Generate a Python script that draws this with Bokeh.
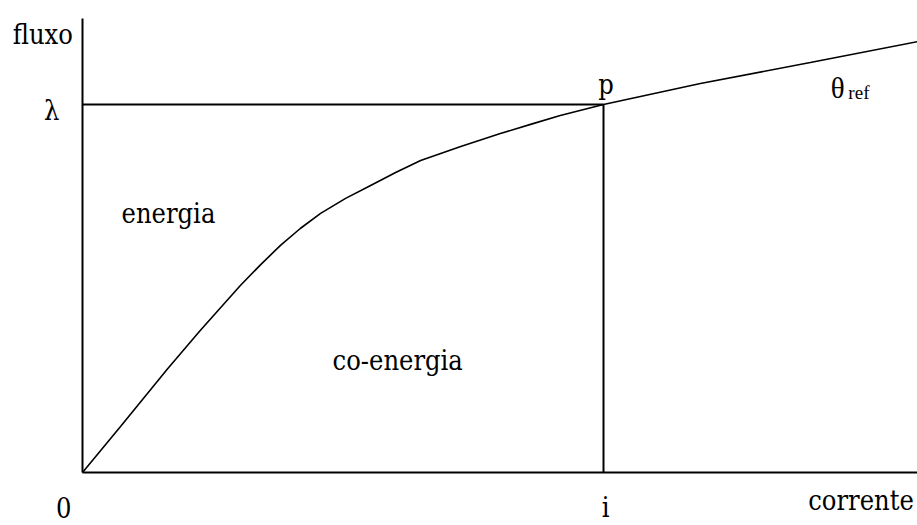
from bokeh.plotting import figure
from bokeh.models import Range1d
from bokeh.core.properties import value
from bokeh.embed import file_html
from bokeh.resources import INLINE

# Magnetisation curve flux(current), normalised so the operating point p is (1, 1)
curve_current = [0.0, 0.073, 0.163, 0.226, 0.303, 0.342, 0.380, 0.418, 0.457, 0.505,
                 0.553, 0.601, 0.649, 0.726, 0.802, 0.860, 0.917, 1.0, 1.186, 1.397, 1.603]
curve_flux = [0.0, 0.125, 0.281, 0.386, 0.508, 0.565, 0.617, 0.663, 0.704, 0.745,
              0.780, 0.815, 0.848, 0.886, 0.921, 0.946, 0.970, 1.0, 1.057, 1.114, 1.171]

# Operating point
i_p = 1.0
lambda_p = 1.0

# Axis extents
x_axis_end = 1.603
y_axis_end = 1.234

# Labels: text, x, y, alignment
label_text = ["fluxo", "\u03bb", "0", "i", "corrente", "p", "energia", "co-energia"]
label_x = [-0.134, -0.059, -0.036, 1.004, 1.393, 0.990, 0.075, 0.480]
label_y = [1.190, 0.984, -0.095, -0.095, -0.076, 1.054, 0.704, 0.304]
label_align = ["left", "center", "center", "center", "left", "left", "left", "left"]

p = figure(width=917, height=525, output_backend="svg", toolbar_location=None,
           x_range=Range1d(-82 / 521, 835 / 521), y_range=Range1d(-53 / 368, 472 / 368),
           x_axis_location=None, y_axis_location=None, min_border=0)
p.grid.visible = False
p.outline_line_color = None
p.background_fill_color = "white"
p.border_fill_color = "white"

# Axes drawn as plain lines from the origin
p.line([0, 0], [0, y_axis_end], line_color="black", line_width=2)
p.line([0, x_axis_end], [0, 0], line_color="black", line_width=2)

# Lines to the operating point
p.line([0, i_p], [lambda_p, lambda_p], line_color="black", line_width=2)
p.line([i_p, i_p], [0, lambda_p], line_color="black", line_width=2)

# The curve
p.line(curve_current, curve_flux, line_color="black", line_width=1.6)

for t, x, y, a in zip(label_text, label_x, label_y, label_align):
    p.text(x=[x], y=[y], text=[t], text_font=value("DejaVu Serif Condensed"),
           text_font_size="27px", text_align=a, text_baseline="alphabetic",
           text_color="black")

# theta_ref label with subscript
p.text(x=[1.436], y=[1.046], text=["\u03b8"], text_font=value("Liberation Serif"),
       text_font_size="29px", text_align="left", text_baseline="alphabetic",
       text_color="black")
p.text(x=[1.470], y=[1.033], text=["ref"], text_font=value("Liberation Serif"),
       text_font_size="19px", text_align="left", text_baseline="alphabetic",
       text_color="black")

open("out.html", "w").write(file_html(p, INLINE))
